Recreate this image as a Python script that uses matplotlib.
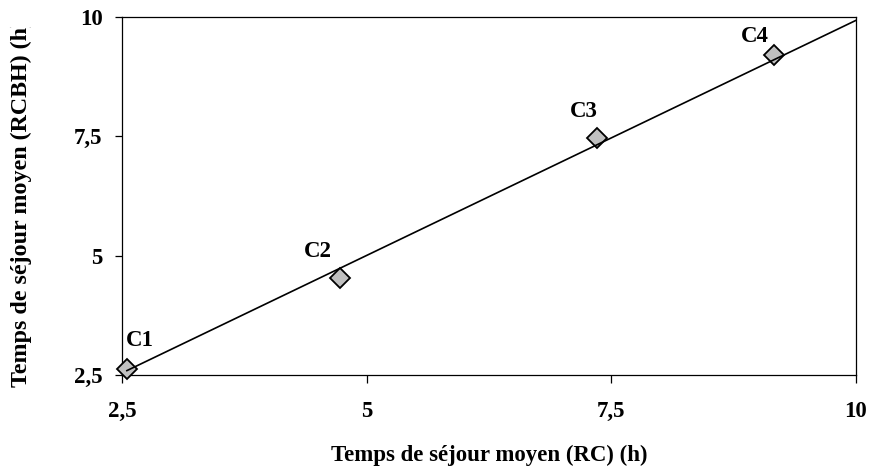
import matplotlib.pyplot as plt
import numpy as np
from matplotlib.transforms import Bbox, TransformedBbox

# temps de sejour moyen (h) pour chaque cas
cas = ['C1', 'C2', 'C3', 'C4']
rc = [2.55, 4.73, 7.35, 9.16]
rcbh = [2.62, 4.53, 7.46, 9.21]

# droite de tendance
pente = 0.985
ordonnee = 0.08

ticks = [2.5, 5, 7.5, 10]
tick_labels = ['2,5', '5', '7,5', '10']

# decalage des etiquettes (points)
decalages = [(9, 21), (-16, 19), (-9, 19), (-14, 13)]

fs = 16.5
plt.rcParams['font.family'] = ['Liberation Serif', 'DejaVu Serif']
plt.rcParams['font.weight'] = 'bold'

fig = plt.figure(figsize=(8.7, 4.76), dpi=100)
ax = fig.add_axes([122 / 870, 1 - 375 / 476, 734 / 870, 358 / 476])

xl = np.array([min(rc), 10])
ax.plot(xl, pente * xl + ordonnee, color='black', lw=1.2, zorder=4)
ax.plot(rc, rcbh, 'D', ms=10, mfc='#c0c0c0', mec='black', mew=1.3,
        zorder=3, clip_on=False)

for nom, x, y, d in zip(cas, rc, rcbh, decalages):
    ax.annotate(nom, (x, y), xytext=d, textcoords='offset points',
                ha='center', va='center', fontsize=fs, fontweight='bold')

ax.set_xlim(2.5, 10)
ax.set_ylim(2.5, 10)
ax.set_xticks(ticks)
ax.set_xticklabels(tick_labels)
ax.set_yticks(ticks)
ax.set_yticklabels(tick_labels)
ax.tick_params(axis='x', direction='out', length=5.5, width=0.9, pad=13,
               labelsize=fs)
ax.tick_params(axis='y', direction='out', length=5, width=0.9, pad=9,
               labelsize=fs)
for s in ax.spines.values():
    s.set_linewidth(0.9)

fig.text(489 / 870, 1 - 455 / 476, 'Temps de séjour moyen (RC) (h)',
         ha='center', va='center', fontsize=fs, fontweight='bold')
# le titre vertical deborde de la zone du graphique : coupe en haut
yl = fig.text(21 / 870, 1 - 387 / 476, 'Temps de séjour moyen (RCBH) (h)',
              ha='center', va='bottom', rotation=90, fontsize=17.3,
              fontweight='bold', clip_on=True)
yl.set_clip_box(TransformedBbox(Bbox([[0, 0], [1, 1 - 27 / 476]]),
                                fig.transFigure))

fig.savefig('out.png', dpi=100)
